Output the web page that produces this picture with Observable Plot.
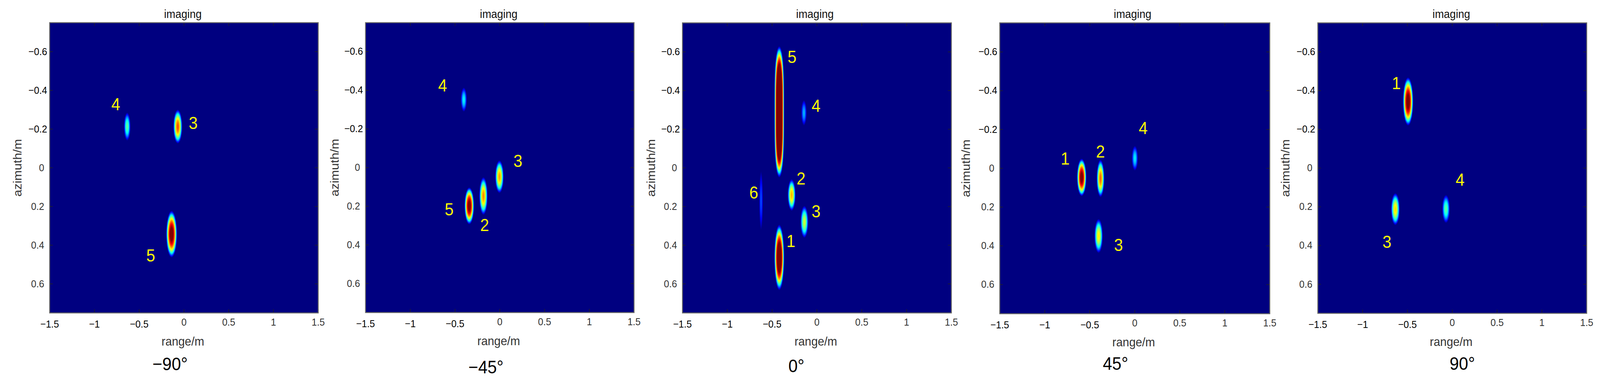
<!DOCTYPE html>
<html>
<head>
<meta charset="utf-8">
<script src="https://cdn.jsdelivr.net/npm/d3@7"></script>
<script src="https://cdn.jsdelivr.net/npm/@observablehq/plot@0.6"></script>
<style>
html,body{margin:0;padding:0;background:#fff;overflow:hidden;}
#chart{position:relative;width:4397px;height:990px;overflow:hidden;transform-origin:0 0;}
#chart svg{position:absolute;top:0;max-width:none;}
</style>
</head>
<body>
<div id="chart"></div>
<script>
// tick values
const rangeTicks = [-1.5, -1, -0.5, 0, 0.5, 1, 1.5];
const azimuthTicks = [-0.6, -0.4, -0.2, 0, 0.2, 0.4, 0.6];
const angleNames = ["\u221290\u00b0", "\u221245\u00b0", "0\u00b0", "45\u00b0", "90\u00b0"];

// blobs: [range, azimuth, half-width in range, half-length in azimuth, peak, flatness]
const blobsM90 = [
  [-0.634, -0.213, 0.0366, 0.0727, 0.47, 1],
  [-0.069, -0.213, 0.050, 0.088, 0.80, 1],
  [-0.138, 0.3425, 0.061, 0.121, 1.08, 1]
];
const blobsM45 = [
  [-0.402, -0.352, 0.034, 0.063, 0.37, 1],
  [-0.004, 0.047, 0.048, 0.085, 0.72, 1],
  [-0.183, 0.147, 0.047, 0.098, 0.74, 1],
  [-0.341, 0.198, 0.054, 0.096, 1.06, 1]
];
const blobs0 = [
  [-0.42, -0.29, 0.056, 0.34, 1.5, 1.7],
  [-0.145, -0.285, 0.030, 0.066, 0.30, 1],
  [-0.282, 0.14, 0.044, 0.082, 0.70, 1],
  [-0.14, 0.279, 0.044, 0.083, 0.58, 1],
  [-0.42, 0.463, 0.056, 0.17, 1.25, 1],
  [-0.623, 0.169, 0.021, 0.153, 0.2, 1]
];
const blobsP45 = [
  [-0.59, 0.047, 0.053, 0.097, 1.06, 1],
  [-0.381, 0.052, 0.043, 0.097, 0.78, 1],
  [0.001, -0.052, 0.034, 0.064, 0.36, 1],
  [-0.402, 0.349, 0.047, 0.088, 0.64, 1]
];
const blobsP90 = [
  [-0.493, -0.344, 0.058, 0.125, 1.08, 1],
  [-0.635, 0.212, 0.049, 0.083, 0.66, 1],
  [-0.07, 0.211, 0.043, 0.073, 0.47, 1]
];

// annotations: [text, range, azimuth]
const notesM90 = [["4", -0.761, -0.325], ["3", 0.104, -0.228], ["5", -0.371, 0.455]];
const notesM45 = [["4", -0.639, -0.423], ["3", 0.203, -0.032], ["5", -0.565, 0.219], ["2", -0.169, 0.299]];
const notes0 = [["5", -0.277, -0.572], ["4", -0.009, -0.319], ["2", -0.177, 0.058], ["6", -0.704, 0.13], ["3", -0.009, 0.228], ["1", -0.29, 0.381]];
const notesP45 = [["1", -0.773, -0.048], ["2", -0.381, -0.084], ["4", 0.094, -0.205], ["3", -0.181, 0.398]];
const notesP90 = [["1", -0.624, -0.436], ["4", 0.088, 0.062], ["3", -0.728, 0.383]];

// jet colour map
const jetStops = [0, 0.125, 0.375, 0.625, 0.875, 1];
const jetColors = ["#000080", "#0000ff", "#00ffff", "#ffff00", "#ff0000", "#800000"];

// layout of the five panels: slot start/end and plot box, angle label centre
const layouts = [
  {slot: [0, 880], box: [136, 874, 57.5, 800], yLabelX: 48, titleX: 502, angleX: 467, angleY: 932},
  {slot: [880, 1750], box: [1004, 1742, 57.5, 799], yLabelX: 920, titleX: 1370, angleX: 1335, angleY: 940},
  {slot: [1750, 2622], box: [1875, 2614, 58, 800], yLabelX: 1789, titleX: 2239, angleX: 2188, angleY: 937},
  {slot: [2622, 3496], box: [2747, 3489, 58, 802], yLabelX: 2655, titleX: 3112, angleX: 3065, angleY: 931},
  {slot: [3496, 4397], box: [3621, 4360, 58, 801], yLabelX: 3533, titleX: 3988, angleX: 4018, angleY: 931}
];
const allBlobs = [blobsM90, blobsM45, blobs0, blobsP45, blobsP90];
const allNotes = [notesM90, notesM45, notes0, notesP45, notesP90];

const fmt = d => String(d).replace("-", "\u2212");
const field = blobs => (x, y) => {
  let v = 0;
  for (const [r, a, hr, ha, peak, flat] of blobs) {
    const R2 = ((x - r) / hr) ** 2 + Math.abs((y - a) / ha) ** (2 * flat);
    if (R2 < 1) v += peak * (1 - R2);
  }
  return v;
};

const chart = document.getElementById("chart");
// the window may be narrower than the reference: keep the whole figure in view
const fit = Math.min(1, window.innerWidth / 4397);
chart.style.transform = `scaleX(${fit})`;

layouts.forEach((L, i) => {
  const [s0, s1] = L.slot;
  const [bl, br, bt, bb] = L.box;
  const W = br - bl, H = bb - bt;
  const neg = a => a.filter(d => d < 0);
  const pos = a => a.filter(d => d >= 0);
  const cx = (bl + br) / 2;
  const svg = Plot.plot({
    width: s1 - s0,
    height: 990,
    marginLeft: bl - s0,
    marginRight: s1 - br,
    marginTop: bt,
    marginBottom: 990 - bb,
    style: {fontFamily: "'Liberation Sans', Arial, sans-serif", background: "transparent", overflow: "visible", maxWidth: "none"},
    x: {domain: [-1.5, 1.5], axis: null},
    y: {domain: [-0.75, 0.75], reverse: true, axis: null},
    color: {type: "linear", domain: jetStops, range: jetColors, clamp: true},
    marks: [
      Plot.raster({fill: field(allBlobs[i]), x1: -1.5, x2: 1.5, y1: -0.75, y2: 0.75, pixelSize: 1}),
      Plot.ruleX(rangeTicks, {stroke: "#222", strokeWidth: 1.5, insetBottom: H - 9}),
      Plot.ruleX(rangeTicks, {stroke: "#222", strokeWidth: 1.5, insetTop: H - 9}),
      Plot.ruleY(azimuthTicks, {stroke: "#222", strokeWidth: 1.5, insetRight: W - 9}),
      Plot.ruleY(azimuthTicks, {stroke: "#222", strokeWidth: 1.5, insetLeft: W - 9}),
      Plot.frame({stroke: "#666", strokeWidth: 2.5}),
      Plot.axisX(neg(rangeTicks), {anchor: "bottom", tickSize: 0, tickPadding: 19, fontSize: 26, fill: "#000", tickFormat: fmt, label: null}),
      Plot.axisX(pos(rangeTicks), {anchor: "bottom", tickSize: 0, tickPadding: 14, fontSize: 26, fill: "#333", tickFormat: fmt, label: null}),
      Plot.axisY(neg(azimuthTicks), {anchor: "left", tickSize: 0, tickPadding: 7, fontSize: 26, fill: "#000", tickFormat: fmt, label: null}),
      Plot.axisY(pos(azimuthTicks), {anchor: "left", tickSize: 0, tickPadding: 15, fontSize: 26, fill: "#333", tickFormat: fmt, label: null}),
      Plot.text(["imaging"], {frameAnchor: "top", dx: L.titleX - cx, dy: 36 - bt, lineAnchor: "middle", fontSize: 29.5, fill: "#111"}),
      Plot.text(["range/m"], {frameAnchor: "bottom", dx: -3, dy: 73, lineAnchor: "middle", fontSize: 32, fill: "#333"}),
      Plot.text(["azimuth/m"], {frameAnchor: "left", dx: L.yLabelX - bl, rotate: -90, textAnchor: "middle", lineAnchor: "middle", fontSize: 32, fill: "#333"}),
      Plot.text([angleNames[i]], {frameAnchor: "bottom", dx: L.angleX - cx, dy: L.angleY - bb, lineAnchor: "middle", fontSize: 46, fill: "#000"}),
      Plot.text(allNotes[i], {x: d => d[1], y: d => d[2], text: d => d[0], fontSize: 44, fill: "#ffff00"})
    ]
  });
  svg.style.left = s0 + "px";
  chart.appendChild(svg);
});
</script>
</body>
</html>
